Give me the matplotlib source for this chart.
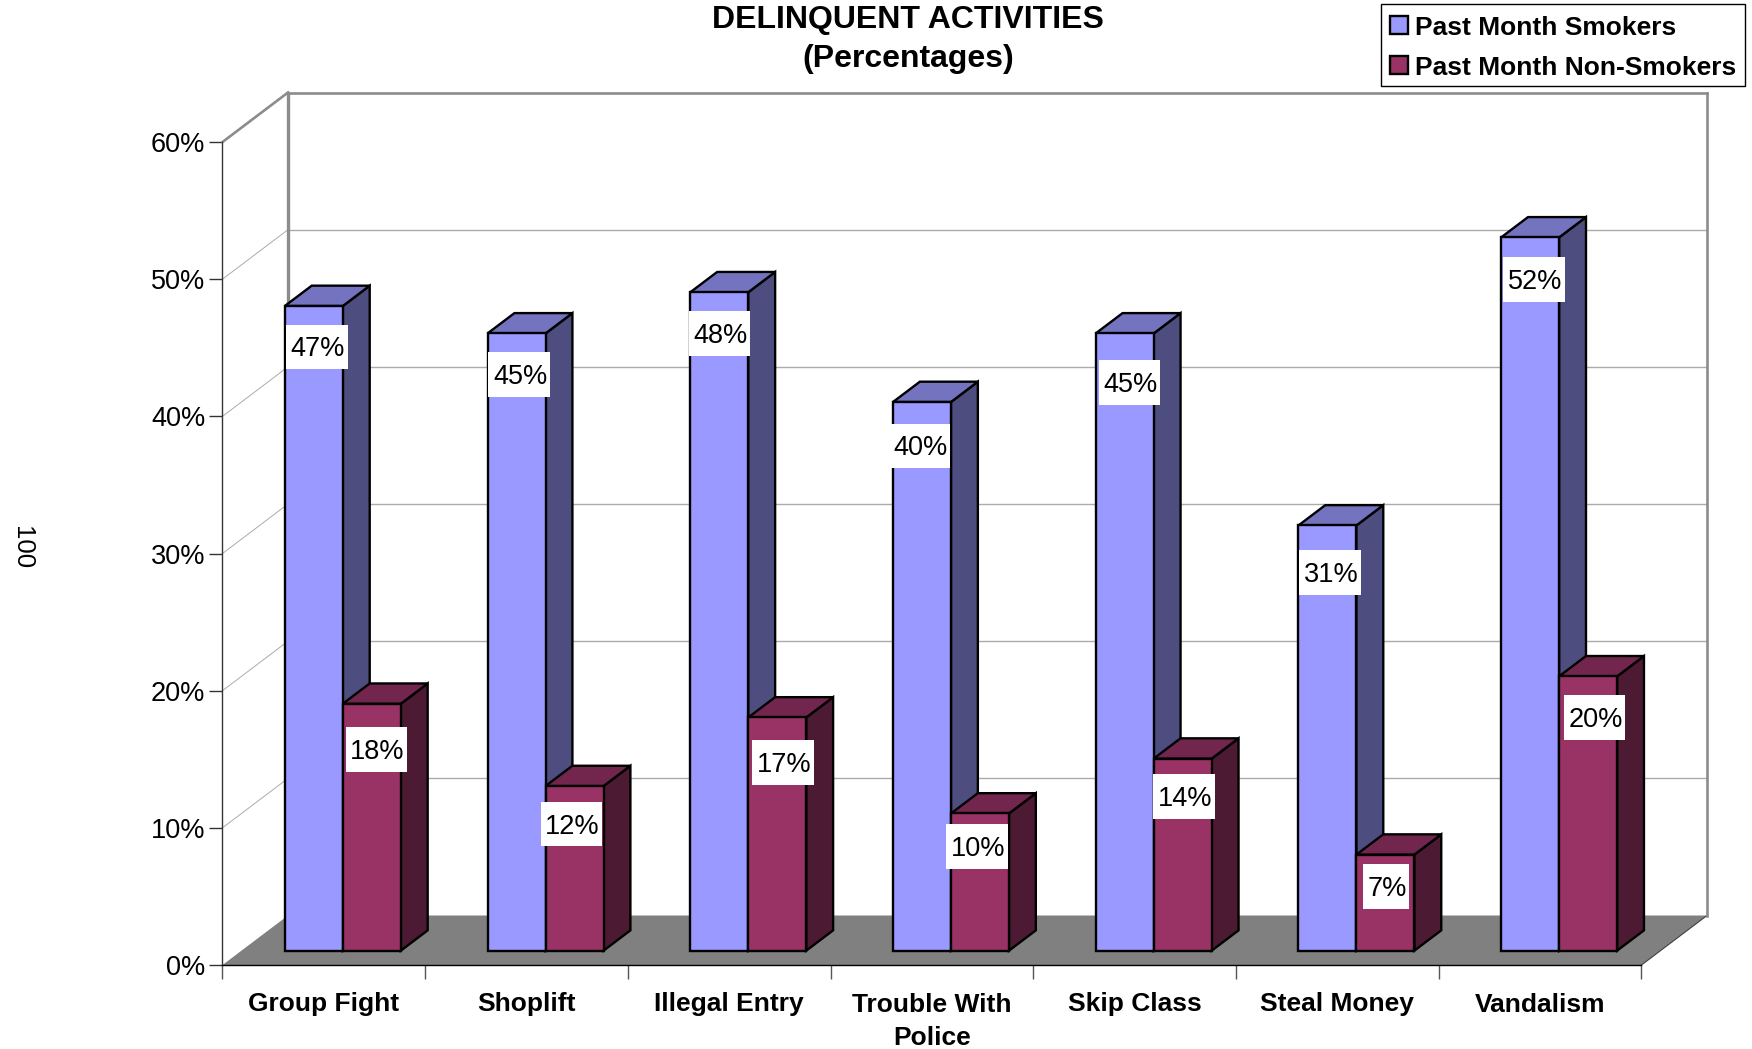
import matplotlib
matplotlib.use('Agg')
import matplotlib.pyplot as plt
from matplotlib.patches import Patch, Polygon, Rectangle
from matplotlib.ticker import FuncFormatter
from matplotlib.transforms import IdentityTransform

categories = ['Group Fight', 'Shoplift', 'Illegal Entry', 'Trouble With\nPolice',
              'Skip Class', 'Steal Money', 'Vandalism']
smokers = [47, 45, 48, 40, 45, 31, 52]
non_smokers = [18, 12, 17, 10, 14, 7, 20]
y_ticks = [0, 10, 20, 30, 40, 50, 60]

# pixel nudges of the value labels, relative to the top of each bar face
smokers_nudge = [(2.5, -41), (2, -41), (0, -41), (-3.5, -44), (4.5, -49), (2, -47), (3.5, -42)]
non_smokers_nudge = [(4, -46), (-3.5, -38), (5, -45), (-3.5, -33), (1, -38), (0, -32), (6, -41)]

W, H = 1752, 1049
LEFT, RIGHT, BOTTOM, TOP = 222.5, 1641.5, 965, 142  # front plane in pixels

# oblique projection of the depth axis, in data units
DEPTH_X = 65.5 / ((RIGHT - LEFT) / 7)
DEPTH_Y = 49.5 / ((BOTTOM - TOP) / 60)
BAR_W = 0.286
GAP = 0.214
D_FRONT = 0.29
D_BACK = 0.70

BLUE = ('#9999FF', '#7373BF', '#4D4D80')
RED = ('#993366', '#73264D', '#4D1A33')
WALL = '#8C8C8C'
GRID = '#ABABAB'
FONT = 'Liberation Sans'
FS = 19.5
FS_BOLD = 19.0

plt.rcParams['font.family'] = FONT

fig = plt.figure(figsize=(W / 100, H / 100), dpi=100)
ax = fig.add_axes([LEFT / W, (H - BOTTOM) / H, (RIGHT - LEFT) / W, (BOTTOM - TOP) / H])
ax.set_xlim(0, 7)
ax.set_ylim(0, 60)
ax.patch.set_visible(False)


def proj(x, y, d):
    return (x + d * DEPTH_X, y + d * DEPTH_Y)


def line(p, q, color, lw, z=1):
    ax.plot([p[0], q[0]], [p[1], q[1]], color=color, lw=lw, zorder=z,
            clip_on=False, solid_capstyle='projecting')


def draw_bar(x, value, colors, z):
    x2 = x + BAR_W
    side = [proj(x2, 0, D_FRONT), proj(x2, 0, D_BACK), proj(x2, value, D_BACK), proj(x2, value, D_FRONT)]
    top = [proj(x, value, D_FRONT), proj(x2, value, D_FRONT), proj(x2, value, D_BACK), proj(x, value, D_BACK)]
    front = [proj(x, 0, D_FRONT), proj(x2, 0, D_FRONT), proj(x2, value, D_FRONT), proj(x, value, D_FRONT)]
    for pts, color in ((side, colors[2]), (top, colors[1]), (front, colors[0])):
        ax.add_patch(Polygon(pts, closed=True, fc=color, ec='black', lw=1.7,
                             joinstyle='miter', clip_on=False, zorder=z))


# floor
ax.add_patch(Polygon([proj(0, 0, 0), proj(7, 0, 0), proj(7, 0, 1), proj(0, 0, 1)],
                     closed=True, fc='#808080', ec='none', clip_on=False, zorder=1))
line(proj(7, 0, 0), proj(7, 0, 1), '#404040', 0.8, 2)

# gridlines on back and left walls
for v in y_ticks[1:-1]:
    line(proj(0, v, 1), proj(7, v, 1), GRID, 1.0)
    line(proj(0, v, 0), proj(0, v, 1), GRID, 0.7)

# wall outline
line(proj(0, 60, 0), proj(0, 60, 1), WALL, 1.9, 2)
line(proj(0, 60, 1), proj(7, 60, 1), WALL, 1.9, 2)
line(proj(0, 0, 1), proj(0, 60, 1), WALL, 2.4, 2)
line(proj(7, 0, 1), proj(7, 60, 1), WALL, 1.9, 2)

# bars
z = 3
for i in range(len(categories)):
    draw_bar(i + GAP, smokers[i], BLUE, z)
    draw_bar(i + GAP + BAR_W, non_smokers[i], RED, z + 1)
    z += 2

# value labels with white boxes
fig.canvas.draw()
renderer = fig.canvas.get_renderer()
for i in range(len(categories)):
    for vals, nudges, off in ((smokers, smokers_nudge, 0.5), (non_smokers, non_smokers_nudge, 1.5)):
        anchor = proj(i + GAP + off * BAR_W, vals[i], D_FRONT)
        nx, ny = nudges[i]
        t = ax.annotate('%d%%' % vals[i], xy=anchor, xytext=(nx + 1.5, ny - 2.5), textcoords='offset pixels',
                        ha='center', va='center', fontsize=FS, color='black', zorder=101,
                        annotation_clip=False)
        bb = t.get_window_extent(renderer)
        cx, cy = ax.transData.transform(anchor)
        ax.add_patch(Rectangle((cx + nx + 0.5 - bb.width / 2 - 3.5, cy + ny - 22.3), bb.width + 7, 44.6,
                               transform=IdentityTransform(), fc='white', ec='none',
                               clip_on=False, zorder=100))

# axes
for s in ('top', 'right'):
    ax.spines[s].set_visible(False)
ax.spines['left'].set_color('#333333')
ax.spines['left'].set_linewidth(1.0)
ax.spines['bottom'].set_color('black')
ax.spines['bottom'].set_linewidth(1.0)
ax.spines['left'].set_zorder(2)
ax.spines['bottom'].set_zorder(2)

ax.set_yticks(y_ticks)
ax.yaxis.set_major_formatter(FuncFormatter(lambda v, pos: '%d%%' % v))
ax.tick_params(axis='y', length=9.4, width=1.0, pad=3, labelsize=FS, color='#333333')
ax.set_xticks(range(8))
ax.set_xticklabels([])
ax.set_xticks([i + 0.5 for i in range(7)], minor=True)
ax.set_xticklabels(categories, minor=True, fontsize=FS_BOLD, fontweight='bold', linespacing=1.5)
ax.tick_params(axis='x', which='major', length=10, width=1.0, color='#555555')
ax.tick_params(axis='x', which='minor', length=0, pad=19.8)

fig.text(908 / W, 1 - 39.5 / H, 'DELINQUENT ACTIVITIES\n(Percentages)', ha='center', va='center',
         fontsize=23, fontweight='bold', linespacing=1.43)
fig.text(22 / W, 1 - 548 / H, '100', rotation=270, ha='center', va='center', fontsize=FS - 1)

handles = [Patch(fc=BLUE[0], ec='black', lw=1.7), Patch(fc=RED[0], ec='black', lw=1.7)]
leg = fig.legend(handles, ['Past Month Smokers', 'Past Month Non-Smokers'],
                 loc='upper right', bbox_to_anchor=(1744.5 / W, 1 - 4.3 / H), borderaxespad=0,
                 fancybox=False, framealpha=1, edgecolor='black',
                 prop={'family': FONT, 'weight': 'bold', 'size': FS_BOLD},
                 handlelength=0.68, handleheight=0.68, handletextpad=0.25,
                 borderpad=0.33, labelspacing=0.62)
leg.get_frame().set_linewidth(1.0)
for txt in leg.get_texts():
    txt.set_position((0, -2.5))
for patch in leg.get_patches():
    patch.set_y(patch.get_y() - 1.5)

fig.savefig('out.png', dpi=100)
